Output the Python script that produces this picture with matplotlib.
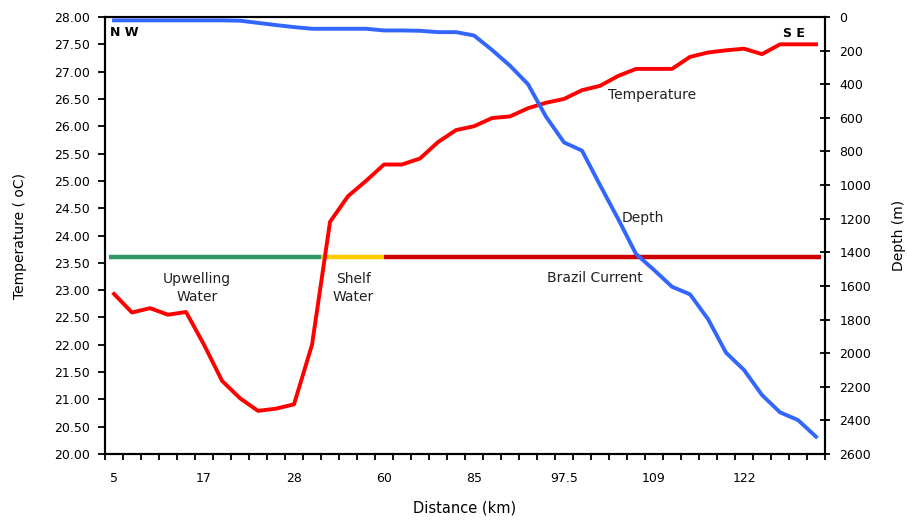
import matplotlib
matplotlib.use("Agg")
import matplotlib.pyplot as plt
import numpy as np

# stations along the transect (category axis, 40 stations)
tick_labels = ["5", "17", "28", "60", "85", "97.5", "109", "122"]
tick_index = [0, 5, 10, 15, 20, 25, 30, 35]

temperature = [22.93, 22.59, 22.67, 22.55, 22.60, 22.00, 21.34, 21.02, 20.79, 20.83,
               20.91, 22.00, 24.25, 24.72, 25.00, 25.30, 25.30, 25.41, 25.71, 25.93,
               26.00, 26.15, 26.18, 26.33, 26.43, 26.50, 26.66, 26.74, 26.92, 27.05,
               27.05, 27.05, 27.27, 27.35, 27.39, 27.42, 27.32, 27.50, 27.50, 27.50]

depth = [20, 20, 20, 20, 20, 20, 20, 22, 35, 48,
         60, 70, 70, 70, 70, 80, 80, 82, 90, 90,
         110, 196, 290, 400, 593, 746, 795, 1000, 1200, 1410,
         1505, 1605, 1650, 1797, 1997, 2100, 2249, 2352, 2398, 2497]

# water mass zones: (start, end) in station index
zone_names = ["Upwelling\nWater", "Shelf\nWater", "Brazil Current"]
zone_start = [-0.3, 11.5, 15.0]
zone_end = [11.5, 15.0, 39.3]
zone_colors = ["#2E9966", "#FFCC00", "#CC0000"]
zone_level = 23.6

x = np.arange(len(temperature))

fig = plt.figure(figsize=(9.07, 5.20), dpi=100)
ax = fig.add_axes([0.1158, 0.1269, 0.7938, 0.8404])
ax2 = ax.twinx()

# zone bars
for s, e, c in zip(zone_start, zone_end, zone_colors):
    ax.plot([s, e], [zone_level, zone_level], color=c, lw=3.2, solid_capstyle="butt", zorder=2)

ax.plot(x, temperature, color="#FF0000", lw=2.8, zorder=3)
ax2.plot(x, depth, color="#3366FF", lw=2.8, zorder=3)

ax.set_xlim(-0.5, 39.5)
ax.set_ylim(20, 28)
ax.set_yticks(np.arange(20, 28.01, 0.5))
ax.set_yticklabels(["%.2f" % v for v in np.arange(20, 28.01, 0.5)])
ax2.set_ylim(2600, 0)
ax2.set_yticks(np.arange(0, 2601, 200))

ax.set_xticks(tick_index)
ax.set_xticklabels(tick_labels)
ax.set_xticks(np.arange(-0.5, 39.6, 1), minor=True)
ax.tick_params(axis="x", which="major", length=0, pad=13, labelsize=9)
ax.tick_params(axis="x", which="minor", length=4, width=1.3, direction="out")
ax.tick_params(axis="y", length=5, width=1.3, direction="out", pad=6, labelsize=9)
ax2.tick_params(axis="y", length=7, width=1.3, direction="inout", pad=7, labelsize=9)

for a in (ax, ax2):
    for sp in a.spines.values():
        sp.set_linewidth(1.5)

ax.set_xlabel("Distance (km)", fontsize=10.5, labelpad=11)
ax.set_ylabel("Temperature ( oC)", fontsize=10, labelpad=19)
ax2.set_ylabel("Depth (m)", fontsize=10, labelpad=15)

# labels in the plot
ax.text(-0.2, 27.71, "N W", fontsize=9, fontweight="bold", ha="left", va="center")
ax.text(37.8, 27.69, "S E", fontsize=9, fontweight="bold", ha="center", va="center")
ax.text(29.9, 26.57, "Temperature", fontsize=10, ha="center", va="center", color="#222222")
ax.text(29.4, 24.32, "Depth", fontsize=10, ha="center", va="center", color="#222222")
ax.text(4.6, 23.04, zone_names[0], fontsize=10, ha="center", va="center",
        linespacing=1.4, color="#222222")
ax.text(13.3, 23.04, zone_names[1], fontsize=10, ha="center", va="center",
        linespacing=1.4, color="#222222")
ax.text(26.7, 23.22, zone_names[2], fontsize=10, ha="center", va="center", color="#222222")

plt.savefig("out.png", dpi=100)
